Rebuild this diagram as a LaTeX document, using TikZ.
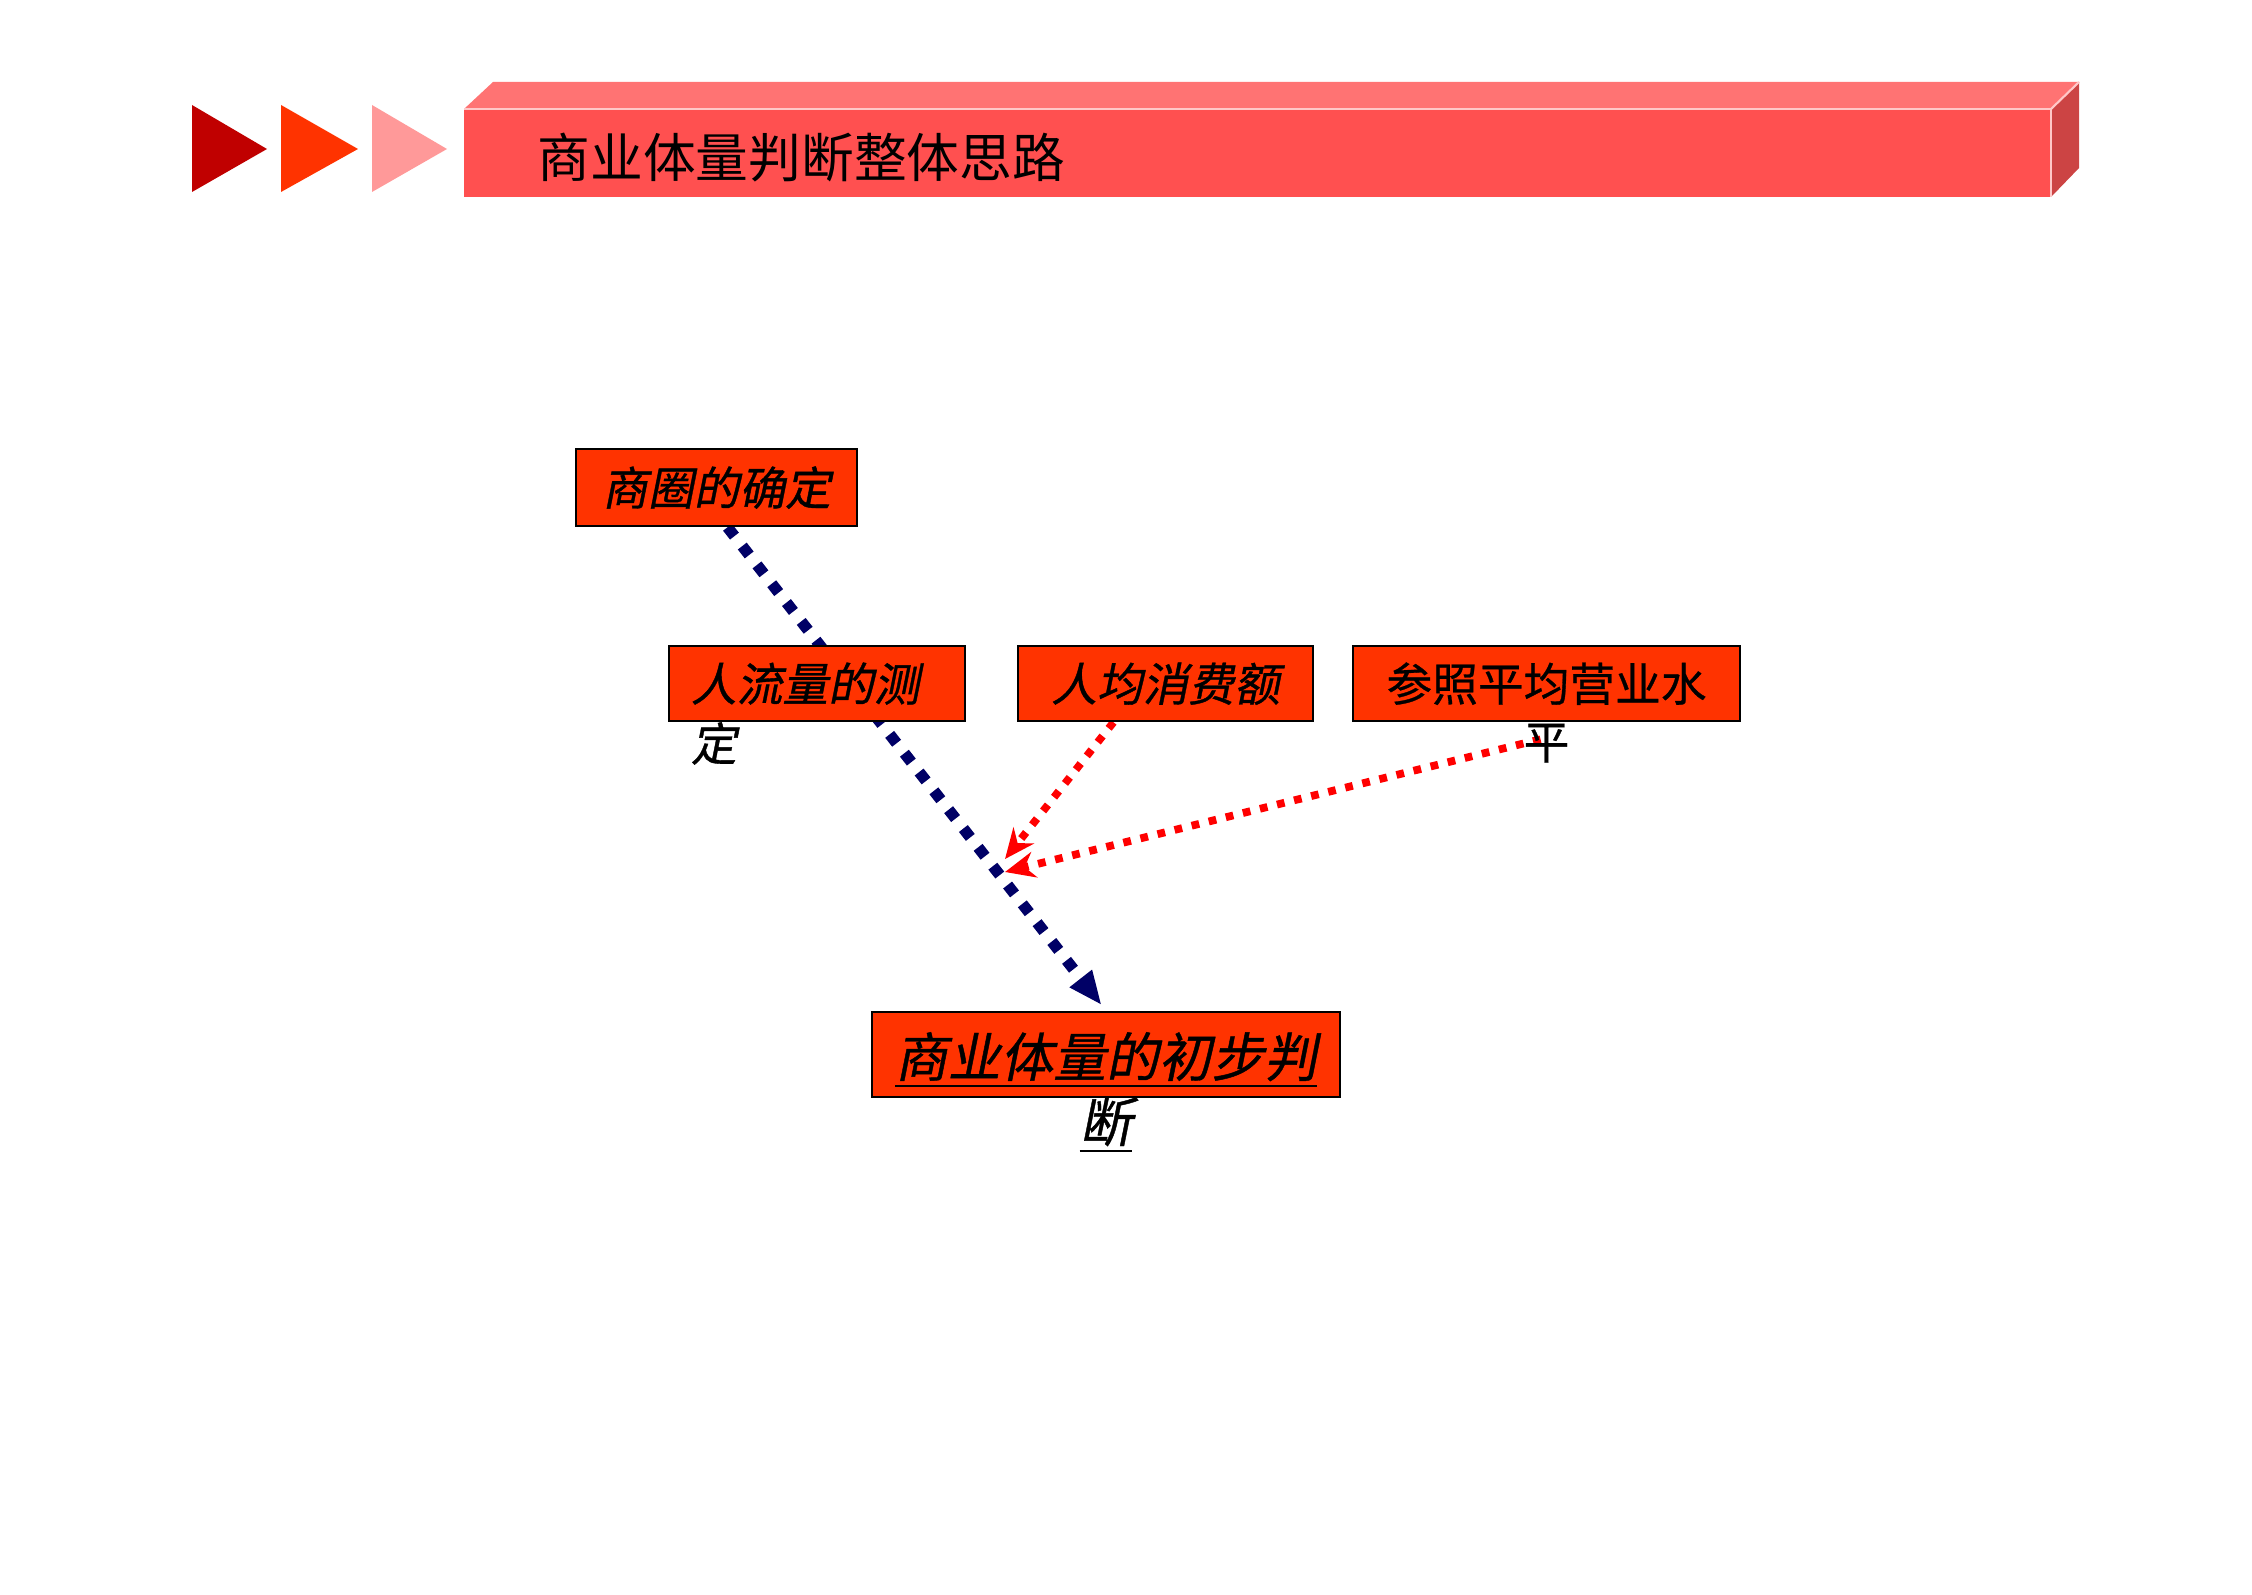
\documentclass[tikz,border=0pt]{standalone}
\usepackage{fontspec}
\usetikzlibrary{arrows.meta,backgrounds}
\newfontfamily\cjk{Noto Sans CJK SC}
\newfontfamily\cjkit[FakeSlant=0.2,FakeBold=0.8]{Noto Sans CJK SC}
\newfontfamily\cjkbox[FakeBold=0.6]{Noto Sans CJK SC}
\definecolor{boxred}{HTML}{FF3300}
\definecolor{arrowdark}{HTML}{C00000}
\definecolor{arrowmid}{HTML}{FF3300}
\definecolor{arrowpale}{HTML}{FF9999}
\definecolor{bannerfront}{HTML}{FF5050}
\definecolor{bannertop}{HTML}{FF7373}
\definecolor{bannerside}{HTML}{CC4444}
\definecolor{banneredge}{HTML}{FFC8C8}
\definecolor{navy}{HTML}{000066}
\begin{document}
\begin{tikzpicture}[x=0.01cm, y=-0.01cm,
        box/.style={draw=black, line width=0.7pt, fill=boxred, inner xsep=0.2cm,
            text height=1em, text depth=0em,
            font=\cjkit\fontsize{13}{17}\selectfont},
        navyline/.style={draw=navy, line width=3.2pt, dash pattern=on 3.2pt off 3.6pt,
            -{Triangle[length=0.34cm,width=0.26cm]}},
        redline/.style={draw=red, line width=2.2pt, dash pattern=on 2.2pt off 2.8pt,
            -{Stealth[length=0.3cm,width=0.26cm]}}]
\useasboundingbox (0,0) rectangle (2252,1594);

\fill[arrowdark] (192,105) -- (267,149) -- (192,192) -- cycle;
\fill[arrowmid] (281,105) -- (358,149) -- (281,192) -- cycle;
\fill[arrowpale] (372,105) -- (447,149) -- (372,192) -- cycle;

\fill[bannerfront] (464,109) rectangle (2051,197);
\fill[bannertop] (464,109) -- (493,82) -- (2079,82) -- (2051,109) -- cycle;
\fill[bannerside] (2051,109) -- (2079,82) -- (2079,168) -- (2051,197) -- cycle;
\draw[banneredge, line width=0.6pt] (464,109) -- (2051,109) -- (2051,197);
\draw[banneredge, line width=0.6pt] (2051,109) -- (2079,82);
\node[anchor=west, inner sep=0pt, font=\cjk\fontsize{15}{18}\selectfont] (title) at (537,158) {商业体量判断整体思路};

\node[box, minimum width=2.81cm, minimum height=0.77cm] (zone) at (716.5,487.5) {商圈的确定};
\node[box, text width=2.52cm, inner xsep=0.22cm, align=left, minimum height=0.75cm] (flow) at (817,683.5) {人流量的测\\定};
\node[box, minimum width=2.95cm, minimum height=0.75cm] (spend) at (1165.5,683.5) {人均消费额};
\node[box, font=\cjkbox\fontsize{13}{16.5}\selectfont, text width=3.47cm, align=center,
    minimum height=0.75cm] (ref) at (1546.5,683.5) {参照平均营业水\\平};
\node[box, font=\cjkit\fontsize{15}{18.5}\selectfont, text width=4.28cm, align=center,
    text height=1.26em, minimum height=0.85cm] (judge) at (1106,1054.5) {\underline{商业体量的初步判}\\\underline{断}};

\coordinate (hub1) at (1005,859);
\coordinate (hub2) at (1005,872);

\begin{scope}[on background layer]
\draw[navyline, shorten >=0.07cm] ([xshift=0.11cm]zone.south) -- (judge.north);
\draw[redline] ([xshift=-0.52cm]spend.south) -- (hub1);
\draw[redline] ([xshift=-0.06cm,yshift=-0.17cm]ref.south) -- (hub2);
\end{scope}

\end{tikzpicture}
\end{document}
